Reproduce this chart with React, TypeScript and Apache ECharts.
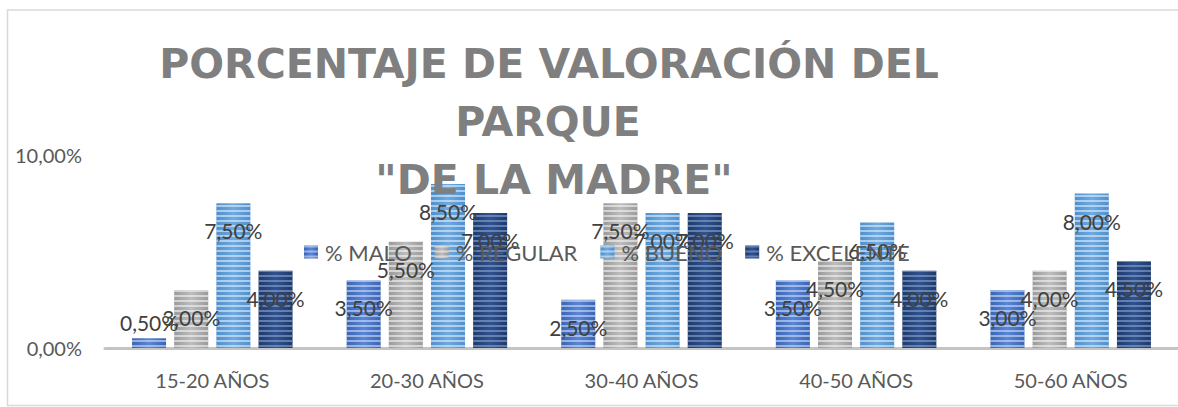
import React, { useEffect, useRef } from "react";
import * as echarts from "echarts";

const categories = ["15-20 AÑOS", "20-30 AÑOS", "30-40 AÑOS", "40-50 AÑOS", "50-60 AÑOS"];
const seriesNames = ["% MALO", "% REGULAR", "% BUENO", "% EXCELENTE"];
const maloValues = [0.5, 3.5, 2.5, 3.5, 3.0];
const regularValues = [3.0, 5.5, 7.5, 4.5, 4.0];
const buenoValues = [7.5, 8.5, 7.0, 6.5, 8.0];
const excelenteValues = [4.0, 7.0, 7.0, 4.0, 4.5];
const titleLines = ["PORCENTAJE DE VALORACIÓN DEL", "PARQUE", "\"DE LA MADRE\""];
const yTicks = { min: 0, max: 10, interval: 10 };

const palette = [
  { edge: "#3A64B4", mid: "#5A86D6", stripe: "rgba(220,232,255,0.55)" },
  { edge: "#9A9A9A", mid: "#BDBDBD", stripe: "rgba(245,245,245,0.6)" },
  { edge: "#4F8FCB", mid: "#6FAAE0", stripe: "rgba(225,240,255,0.6)" },
  { edge: "#1E3A6A", mid: "#2F5290", stripe: "rgba(140,165,210,0.6)" },
];

const fmt = (v: number) => v.toFixed(2).replace(".", ",") + "%";

export default function App() {
  const ref = useRef<HTMLDivElement>(null);
  useEffect(() => {
    if (!ref.current) return;
    const chart = echarts.init(ref.current, null, { renderer: "svg" });
    const allValues = [maloValues, regularValues, buenoValues, excelenteValues];
    const font = "Lato";
    const series = allValues.map((vals, i) => ({
      name: seriesNames[i],
      type: "bar",
      barWidth: 34,
      barGap: "24%",
      data: vals.map((v) =>
        v < 1 ? { value: v, label: { position: "top", distance: 5 } } : v
      ),
      itemStyle: {
        color: new echarts.graphic.LinearGradient(0, 0, 1, 0, [
          { offset: 0, color: palette[i].edge },
          { offset: 0.5, color: palette[i].mid },
          { offset: 1, color: palette[i].edge },
        ]),
        decal: {
          symbol: "rect",
          symbolSize: 1,
          color: palette[i].stripe,
          dashArrayX: [1, 0],
          dashArrayY: [1.2, 2.2],
          rotation: 0,
        },
      },
      label: {
        show: true,
        position: "insideTop",
        distance: 17,
        formatter: (p: any) => fmt(p.value),
        color: "#404040",
        fontSize: 21,
        fontFamily: font,
      },
      z: 2,
    }));

    chart.setOption({
      animation: false,
      backgroundColor: "#ffffff",
      grid: { left: 105, top: 155, width: 1077, height: 193 },
      legend: {
        data: seriesNames,
        left: 304,
        top: 241,
        padding: 0,
        itemWidth: 14,
        itemHeight: 13,
        itemGap: 23,
        icon: "rect",
        textStyle: { color: "#595959", fontSize: 22, fontFamily: font, padding: [0, 0, 0, 2] },
        z: 3,
      },
      xAxis: {
        type: "category",
        data: categories,
        axisLine: { show: true, lineStyle: { color: "#C4C4C4", width: 3 } },
        axisTick: { show: false },
        axisLabel: { color: "#595959", fontSize: 20, fontFamily: font, margin: 22 },
      },
      yAxis: {
        type: "value",
        min: yTicks.min,
        max: yTicks.max,
        interval: yTicks.interval,
        axisLine: { show: false },
        axisTick: { show: false },
        splitLine: { show: false },
        axisLabel: {
          color: "#595959",
          fontSize: 20,
          fontFamily: font,
          margin: 23,
          formatter: (v: number) => fmt(v),
        },
      },
      graphic: [
        {
          type: "rect",
          z: 0,
          silent: true,
          shape: { x: 7.5, y: 10, width: 1200, height: 395.5 },
          style: { fill: "none", stroke: "#D9D9D9", lineWidth: 1.5 },
        },
        ...titleLines.map((t, i) => ({
          type: "text",
          z: 100,
          silent: true,
          x: [549, 548, 554][i],
          y: [64, 122, 180][i],
          style: {
            text: t,
            fill: "#7F7F7F",
            font: "bold 41px 'DejaVu Sans'",
            textAlign: "center",
            textVerticalAlign: "middle",
          },
        })),
      ],
      series,
    });
    return () => chart.dispose();
  }, []);
  return (
    <div
      ref={ref}
      style={{ position: "fixed", left: 0, top: 0, width: 1178, height: 407 }}
    />
  );
}
